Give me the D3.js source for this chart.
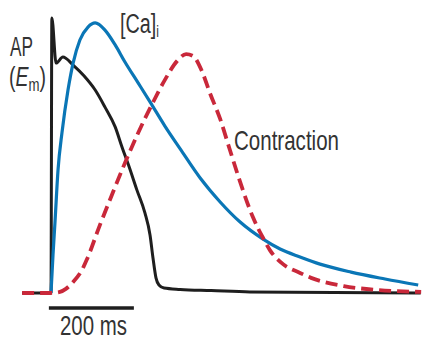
<!DOCTYPE html>
<html>
<head>
<meta charset="utf-8">
<script src="https://cdn.jsdelivr.net/npm/d3@7"></script>
<style>
  html, body { margin: 0; padding: 0; background: #fff; }
  svg { display: block; }
  text { font-family: "Liberation Sans", Arial, sans-serif; fill: #333; }
</style>
</head>
<body>
<svg id="chart" width="422" height="340"></svg>
<script>
// Time in ms (0 = AP upstroke), amplitudes normalised to 0..1
const apTime  = [-68, 0, 2, 12, 28, 52, 78, 104, 127, 151, 167, 184, 202, 221, 233, 240, 247, 254, 266, 304, 377, 468, 870];
const apValue = [0, 0, 1.0, 0.836, 0.858, 0.829, 0.789, 0.738, 0.676, 0.604, 0.531, 0.458, 0.375, 0.291, 0.211, 0.127, 0.055, 0.029, 0.018, 0.013, 0.009, 0.004, 0];

const caTime  = [0, 4.7, 9.4, 16.5, 26, 40, 52, 68, 87, 104, 127, 151, 174, 205, 233, 268, 304, 351, 398, 445, 499, 539, 586, 633, 706, 786, 864];
const caValue = [0, 0.138, 0.258, 0.447, 0.585, 0.738, 0.836, 0.92, 0.967, 0.982, 0.956, 0.902, 0.84, 0.764, 0.695, 0.607, 0.524, 0.418, 0.331, 0.258, 0.196, 0.16, 0.131, 0.105, 0.076, 0.051, 0.029];

const contractionTime  = [-68, -2, 21, 35, 52, 73, 85, 115, 146, 174, 205, 238, 268, 297, 318, 334, 355, 374, 398, 421, 445, 475, 499, 515, 546, 586, 612, 689, 769, 871];
const contractionValue = [0, 0, 0.004, 0.015, 0.04, 0.084, 0.124, 0.247, 0.367, 0.473, 0.582, 0.687, 0.775, 0.844, 0.869, 0.862, 0.807, 0.727, 0.633, 0.52, 0.404, 0.276, 0.2, 0.156, 0.105, 0.073, 0.055, 0.025, 0.011, 0.004];

const scaleBar = { start: -5, length: 200, label: "200 ms" };

const svg = d3.select("#chart");

// 200 ms spans 85 px; upstroke sits at x = 51
const x = d3.scaleLinear().domain([0, 200]).range([51, 136]);
const y = d3.scaleLinear().domain([0, 1]).range([293, 18]);

const line = d3.line()
  .x(d => x(d[0]))
  .y(d => y(d[1]))
  .curve(d3.curveMonotoneX);

const zipSeries = (t, v) => t.map((tt, i) => [tt, v[i]]);

// Action potential
svg.append("path")
  .datum(zipSeries(apTime, apValue))
  .attr("d", line)
  .attr("fill", "none")
  .attr("stroke", "#1e1e1e")
  .attr("stroke-width", 3)
  .attr("stroke-linejoin", "round");

// Intracellular calcium transient
svg.append("path")
  .datum(zipSeries(caTime, caValue))
  .attr("d", line)
  .attr("fill", "none")
  .attr("stroke", "#0a76b6")
  .attr("stroke-width", 3.2)
  .attr("stroke-linejoin", "round");

// Contraction (dashed)
svg.append("path")
  .datum(zipSeries(contractionTime, contractionValue))
  .attr("d", line)
  .attr("fill", "none")
  .attr("stroke", "#c9283a")
  .attr("stroke-width", 3.8)
  .attr("stroke-dasharray", "12,6");

// Time scale bar
svg.append("line")
  .attr("x1", x(scaleBar.start))
  .attr("x2", x(scaleBar.start + scaleBar.length))
  .attr("y1", 308).attr("y2", 308)
  .attr("stroke", "#1e1e1e")
  .attr("stroke-width", 3.5);

// Condensed look: squeeze a label horizontally to a given width, starting at `left`
function fitWidth(sel, left, width) {
  const bb = sel.node().getBBox();
  const sx = width / bb.width;
  sel.attr("transform", `translate(${left},0) scale(${sx},1) translate(${-bb.x},0)`);
}

const fs = 28;

const bar = svg.append("text").attr("x", 0).attr("y", 335).attr("font-size", fs).text(scaleBar.label);
fitWidth(bar, 60, 67);

const ap = svg.append("text").attr("x", 0).attr("y", 56).attr("font-size", fs).text("AP");
fitWidth(ap, 10, 23);

const em = svg.append("text").attr("x", 0).attr("y", 86).attr("font-size", fs);
em.append("tspan").text("(");
em.append("tspan").attr("font-style", "italic").text("E");
em.append("tspan").attr("font-size", 19).attr("dy", 5).text("m");
em.append("tspan").attr("dy", -5).text(")");
fitWidth(em, 9, 37);

const ca = svg.append("text").attr("x", 0).attr("y", 33).attr("font-size", fs);
ca.append("tspan").text("[Ca]");
ca.append("tspan").attr("font-size", 17).attr("dy", 4).text("i");
fitWidth(ca, 120, 39);

const ct = svg.append("text").attr("x", 0).attr("y", 150).attr("font-size", fs).text("Contraction");
fitWidth(ct, 234, 105);
</script>
</body>
</html>
